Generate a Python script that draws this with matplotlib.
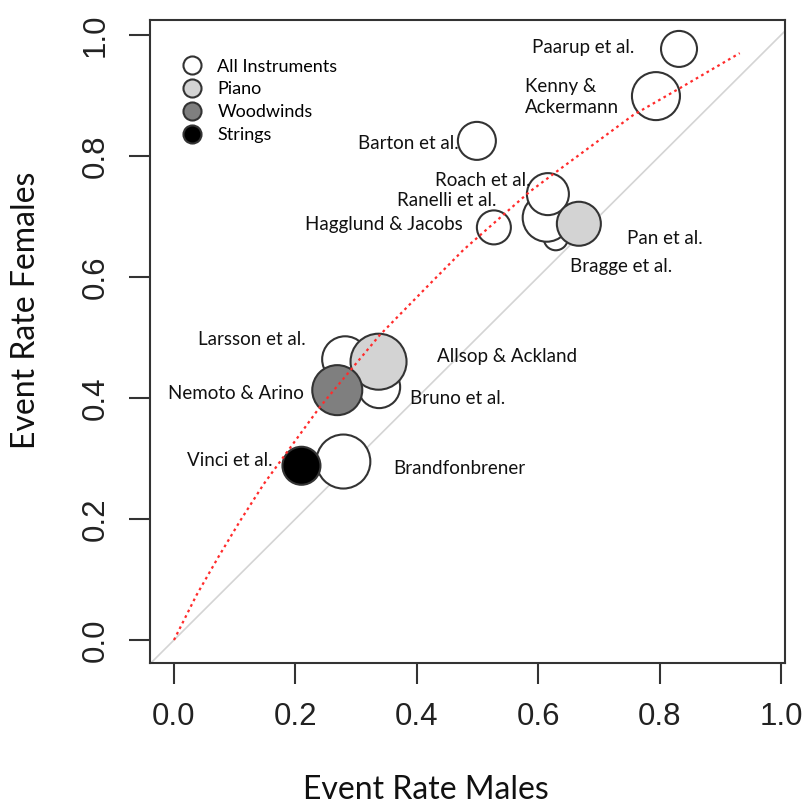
import matplotlib
matplotlib.use("Agg")
import matplotlib.pyplot as plt
from matplotlib.lines import Line2D

# ---- data ----
studies = ["Paarup et al.", "Kenny &\nAckermann", "Barton et al.", "Bragge et al.",
           "Ranelli et al.", "Roach et al.", "Hagglund & Jacobs", "Pan et al.",
           "Larsson et al.", "Bruno et al.", "Allsop & Ackland", "Nemoto & Arino",
           "Brandfonbrener", "Vinci et al."]
rate_males = [0.832, 0.794, 0.499, 0.629, 0.614, 0.616, 0.527, 0.667,
              0.282, 0.338, 0.337, 0.269, 0.279, 0.210]
rate_females = [0.977, 0.899, 0.825, 0.664, 0.698, 0.737, 0.682, 0.688,
                0.464, 0.418, 0.460, 0.413, 0.295, 0.288]
# bubble radius (study weight), in pixels of the original figure
bubble_r = [18, 24, 19, 12, 24, 21, 17, 22, 23, 21, 28, 25, 27, 19]
instrument = ["All Instruments", "All Instruments", "All Instruments", "All Instruments",
              "All Instruments", "All Instruments", "All Instruments", "Piano",
              "All Instruments", "All Instruments", "Piano", "Woodwinds",
              "All Instruments", "Strings"]

# label anchor (left edge, vertical centre) for each study
label_x = [0.590, 0.578, 0.303, 0.652, 0.367, 0.430, 0.216, 0.746,
           0.040, 0.389, 0.433, -0.010, 0.362, 0.021]
label_y = [0.980, 0.897, 0.821, 0.617, 0.727, 0.760, 0.686, 0.664,
           0.496, 0.400, 0.469, 0.407, 0.284, 0.296]

# fitted meta-regression curve (red dotted)
fit_x = [0, 0.037, 0.073, 0.109, 0.148, 0.241, 0.339, 0.416, 0.477,
         0.586, 0.630, 0.757, 0.828, 0.932]
fit_y = [0, 0.074, 0.137, 0.197, 0.258, 0.386, 0.504, 0.583, 0.645,
         0.741, 0.774, 0.868, 0.909, 0.970]

groups = ["All Instruments", "Piano", "Woodwinds", "Strings"]
group_colors = {"All Instruments": "white", "Piano": "#d3d3d3",
                "Woodwinds": "#7f7f7f", "Strings": "black"}

TEXT_FONT = ["Lato", "DejaVu Sans"]
TICK_FONT = ["Liberation Sans", "DejaVu Sans"]
EDGE = "#333333"

fig = plt.figure(figsize=(8.04, 8.09), dpi=100)
ax = fig.add_axes([150 / 804, 146 / 809, 635 / 804, 643 / 809])
ax.set_xlim(-0.0395, 1.0066)
ax.set_ylim(-0.038, 1.0248)

# identity line
ax.plot([-0.1, 1.1], [-0.1, 1.1], color="#d4d4d4", lw=1.2, zorder=1)

# bubbles, drawn in order so overlaps match
px2pt = 72 / 100
sizes = [(2 * r * px2pt) ** 2 for r in bubble_r]
colors = [group_colors[g] for g in instrument]
ax.scatter(rate_males, rate_females, s=sizes, c=colors, edgecolors=EDGE,
           linewidths=1.5, zorder=2)

# fitted curve
ax.plot(fit_x, fit_y, color="#ff2b2b", lw=1.6, ls=(0, (1.2, 1.6)), zorder=3)

for name, lx, ly in zip(studies, label_x, label_y):
    ax.text(lx, ly, name, ha="left", va="center", fontsize=13.5,
            family=TEXT_FONT, color="#111111", linespacing=1.3, zorder=4)

handles = [Line2D([], [], marker="o", ls="", markersize=13,
                  markerfacecolor=group_colors[g], markeredgecolor=EDGE,
                  markeredgewidth=1.5) for g in groups]
ax.legend(handles, groups, loc="upper left", bbox_to_anchor=(0.052, 0.940),
          frameon=False, borderpad=0, handlelength=1.0, handletextpad=0.9,
          labelspacing=0.38, borderaxespad=0,
          prop={"family": TEXT_FONT, "size": 13})

ticks = [0.0, 0.2, 0.4, 0.6, 0.8, 1.0]
ax.set_xticks(ticks)
ax.set_yticks(ticks)
ax.set_xticklabels([f"{t:.1f}" for t in ticks], family=TICK_FONT, fontsize=22.5,
                   color="#222222")
ax.set_yticklabels([f"{t:.1f}" for t in ticks], family=TICK_FONT, fontsize=22.5,
                   color="#222222", rotation=90, va="center")
ax.tick_params(direction="out", length=15, width=1.5, color=EDGE, pad=13)
for sp in ax.spines.values():
    sp.set_color(EDGE)
    sp.set_linewidth(1.5)

fig.text(426 / 804, 1 - 790 / 809, "Event Rate Males", ha="center", va="center",
         fontsize=23, family=TEXT_FONT, color="#111111")
fig.text(26 / 804, 1 - 310 / 809, "Event Rate Females", ha="center", va="center",
         rotation=90, fontsize=23, family=TEXT_FONT, color="#111111")

fig.savefig("out.png", dpi=100)
